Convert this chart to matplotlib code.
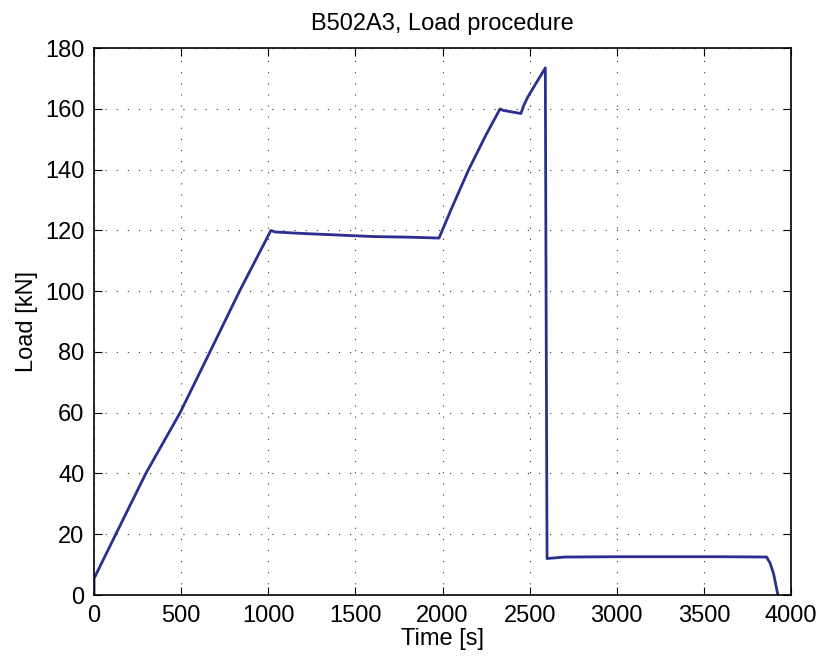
import matplotlib
matplotlib.use("Agg")
import matplotlib.pyplot as plt
from matplotlib import font_manager as fm

# pick the regular (not narrow) Liberation Sans file
regular = [f for f in fm.findSystemFonts()
           if f.endswith("LiberationSans-Regular.ttf")]
if regular:
    fm.fontManager.addfont(regular[0])
    fam = fm.FontProperties(fname=regular[0]).get_name()
else:
    fam = "DejaVu Sans"
plt.rcParams["font.family"] = [fam, "DejaVu Sans"]

# load history
time_s = [0, 0, 5, 125, 297, 494, 665, 835, 1015,
          1040, 1200, 1400, 1600, 1800, 1980,
          2050, 2150, 2250, 2330, 2350, 2400, 2450, 2465, 2490, 2590,
          2595, 2600, 2700, 3000, 3300, 3600, 3860, 3880, 3900, 3925]
load_kn = [0, 5.6, 6, 20, 40, 60, 80, 100, 120,
           119.5, 119, 118.5, 118, 117.8, 117.5,
           127, 140, 151.5, 160, 159.5, 159, 158.5, 161, 164, 173.5,
           90, 12, 12.5, 12.6, 12.6, 12.6, 12.5, 10.5, 7, 0]

fig = plt.figure(figsize=(8.19, 6.62), dpi=100)
ax = fig.add_axes([0.1148, 0.1012, 0.851, 0.826])
ax.plot(time_s, load_kn, color="#2b2f8f", linewidth=2)

ax.set_xlim(0, 4000)
ax.set_ylim(0, 180)
ax.set_xticks(range(0, 4001, 500))
ax.set_yticks(range(0, 181, 20))
ax.grid(True, color="#333333", linestyle=(0, (1, 9)), linewidth=0.8)
ax.tick_params(direction="in", top=True, right=True, labelsize=17,
               length=6, pad=7)
for s in ax.spines.values():
    s.set_linewidth(1.2)

ax.set_title("B502A3, Load procedure", fontsize=17, pad=13)
ax.set_xlabel("Time [s]", fontsize=17, labelpad=1)
ax.set_ylabel("Load [kN]", fontsize=17, labelpad=5)

plt.savefig("out.png")
plt.close()
